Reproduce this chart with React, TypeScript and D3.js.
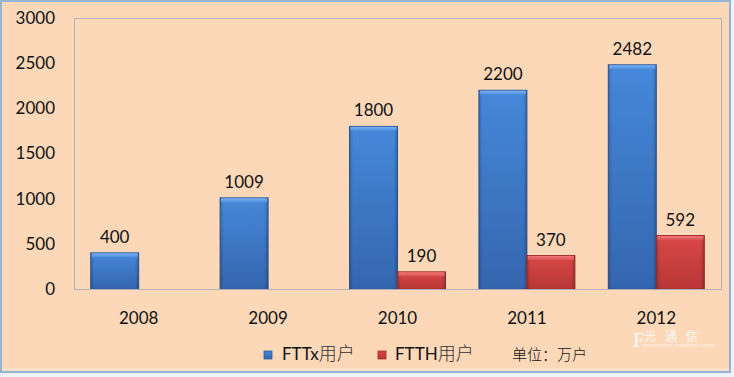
import React from "react";
import * as d3 from "d3";

const years = ["2008", "2009", "2010", "2011", "2012"];
const fttxValues = [400, 1009, 1800, 2200, 2482];
const ftthValues = [null, null, 190, 370, 592];
const yTicks = [0, 500, 1000, 1500, 2000, 2500, 3000];
const seriesNames = ["FTTx", "FTTH"];
const seriesSuffix = "用户";
const unitLabel = "单位：万户";

const W = 734;
const H = 377;
const plot = { left: 74, right: 721, top: 18, bottom: 289 };
const FONT = "Lato, 'Noto Sans CJK SC', sans-serif";

export default function App() {
  const x = d3
    .scaleBand<string>()
    .domain(years)
    .range([plot.left, plot.right])
    .paddingInner(0.258)
    .paddingOuter(0.129);
  const x1 = d3.scaleBand<string>().domain(["a", "b"]).range([0, x.bandwidth()]);
  const y = d3.scaleLinear().domain([0, 3000]).range([plot.bottom, plot.top]);

  const series = [
    { key: "a", values: fttxValues, grad: "blueG", hi: "blueH", stroke: "#2A5A98" },
    { key: "b", values: ftthValues, grad: "redG", hi: "redH", stroke: "#9E2E2E" },
  ];

  const legend = [
    { name: seriesNames[0], sx: 264, tx: 282, grad: "blueG", stroke: "#2A5A98" },
    { name: seriesNames[1], sx: 378, tx: 395, grad: "redG", stroke: "#9E2E2E" },
  ];

  return (
    <svg
      width={W}
      height={H}
      style={{ position: "absolute", left: 0, top: 0, display: "block" }}
      fontFamily={FONT}
    >
      <defs>
        <linearGradient id="blueG" x1="0" y1="0" x2="0" y2="1">
          <stop offset="0" stopColor="#4688DA" />
          <stop offset="1" stopColor="#3466AE" />
        </linearGradient>
        <linearGradient id="blueH" x1="0" y1="0" x2="0" y2="1">
          <stop offset="0" stopColor="#7DB2F2" />
          <stop offset="1" stopColor="#4B8CDC" />
        </linearGradient>
        <linearGradient id="redG" x1="0" y1="0" x2="0" y2="1">
          <stop offset="0" stopColor="#D94848" />
          <stop offset="1" stopColor="#B83636" />
        </linearGradient>
        <linearGradient id="redH" x1="0" y1="0" x2="0" y2="1">
          <stop offset="0" stopColor="#F07C7C" />
          <stop offset="1" stopColor="#DB4C4C" />
        </linearGradient>
        <linearGradient id="edgeG" x1="0" y1="0" x2="1" y2="0">
          <stop offset="0" stopColor="#000" stopOpacity="0.18" />
          <stop offset="0.08" stopColor="#000" stopOpacity="0" />
          <stop offset="0.92" stopColor="#000" stopOpacity="0" />
          <stop offset="1" stopColor="#000" stopOpacity="0.22" />
        </linearGradient>
      </defs>

      <rect x={0} y={0} width={W} height={H} fill="#EEF3FA" />
      <rect x={1} y={1} width={729} height={371} fill="#FCD8B8" stroke="#95B3D7" strokeWidth={2} />
      <line x1={2} x2={729} y1={369.5} y2={369.5} stroke="#FDE6D2" strokeWidth={1.5} />

      {/* plot frame */}
      <path
        d={`M${plot.left + 0.5},${plot.bottom}V${plot.top + 0.5}H${plot.right + 0.5}V${plot.bottom}`}
        fill="none"
        stroke="#B7AFB8"
        strokeWidth={1}
      />

      {/* y tick labels */}
      {yTicks.map((t) => (
        <text key={t} x={55} y={y(t)} dy="0.35em" textAnchor="end" fontSize={17} fill="#111">
          {t}
        </text>
      ))}

      {/* bars */}
      {series.map((s) =>
        years.map((yr, i) => {
          const v = s.values[i];
          if (v == null) return null;
          const bx = (x(yr) as number) + (x1(s.key) as number);
          const bw = x1.bandwidth();
          const by = y(v);
          const bh = plot.bottom - by;
          return (
            <g key={s.key + yr}>
              <rect x={bx} y={by} width={bw} height={bh} fill={`url(#${s.grad})`} stroke={s.stroke} strokeWidth={1} />
              <rect x={bx} y={by} width={bw} height={bh} fill="url(#edgeG)" />
              <rect x={bx + 1} y={by + 0.5} width={bw - 2} height={Math.min(4, bh)} fill={`url(#${s.hi})`} />
              <text x={bx + bw / 2} y={by - 10} textAnchor="middle" fontSize={17} fill="#111">
                {v}
              </text>
            </g>
          );
        })
      )}

      {/* baseline */}
      <line x1={plot.left} x2={plot.right + 1} y1={plot.bottom + 0.5} y2={plot.bottom + 0.5} stroke="#B7AFB8" strokeWidth={1} />

      {/* category labels */}
      {years.map((yr) => (
        <text key={yr} x={(x(yr) as number) + x.bandwidth() / 2} y={324} textAnchor="middle" fontSize={17} fill="#111">
          {yr}
        </text>
      ))}

      {/* watermark */}
      <g fill="#FFFFFF" opacity={0.85}>
        <text x={633} y={347} fontSize={20} fontFamily="'Liberation Serif', serif">F</text>
        <text x={644} y={341} fontSize={12} letterSpacing={9} fontFamily="'Noto Sans CJK SC', sans-serif">光通信</text>
        <text x={642} y={347} fontSize={4.3} fontFamily="'Liberation Serif', serif" letterSpacing={0.3}>FIBEROPTICS COMMUNICATION</text>
      </g>

      {/* legend */}
      {legend.map((l) => (
        <g key={l.name}>
          <rect x={l.sx} y={351} width={8} height={8} fill={`url(#${l.grad})`} stroke={l.stroke} strokeWidth={0.8} />
          <text x={l.tx} y={360} fontSize={17} fill="#111">
            <tspan>{l.name}</tspan>
            <tspan fontSize={18} fontWeight={300} fill="#333">{seriesSuffix}</tspan>
          </text>
        </g>
      ))}
      <text x={512} y={360} fontSize={15} fill="#111" fontWeight={300}>
        {unitLabel}
      </text>
    </svg>
  );
}
